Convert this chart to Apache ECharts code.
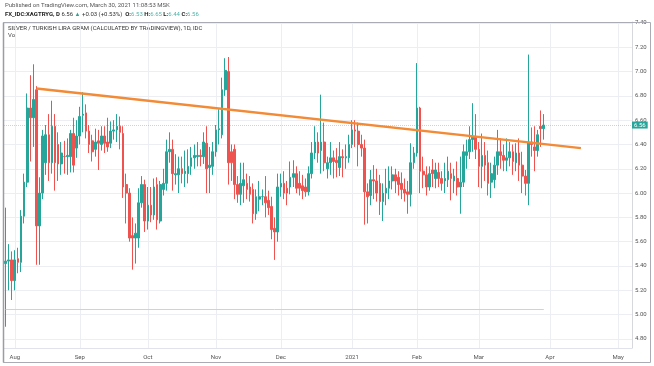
<!DOCTYPE html>
<html><head><meta charset="utf-8">
<script src="https://cdn.jsdelivr.net/npm/echarts@6/dist/echarts.min.js"></script>
<style>html,body{margin:0;padding:0;background:#fff}#c{width:654px;height:366px}</style>
</head><body><div id="c"></div>
<script>
// ---- data ----
const firstDate = '2020-07-29';
const lastAxisDate = '2021-05-07';
const monthNames = ['Jan','Feb','Mar','Apr','May','Jun','Jul','Aug','Sep','Oct','Nov','Dec'];
const opens = [5.42,5.44,5.45,5.28,5.46,5.43,5.81,6.09,6.70,6.62,6.85,5.73,6.00,6.25,6.48,6.25,6.55,6.40,6.24,6.30,6.30,6.30,6.49,6.37,6.47,6.64,6.66,6.51,6.43,6.36,6.43,6.40,6.47,6.42,6.41,6.51,
6.52,6.55,6.49,6.07,6.00,5.65,5.63,5.63,5.92,6.07,5.77,5.90,5.82,6.07,5.77,6.03,6.08,6.34,6.36,6.15,6.15,6.20,6.16,6.16,6.22,6.29,6.30,6.31,6.30,6.41,6.21,6.22,6.34,6.52,
6.48,6.85,7.00,6.34,6.36,6.07,5.99,6.06,6.08,6.05,6.03,5.83,5.95,5.97,5.97,5.94,5.89,5.71,5.68,6.05,6.08,6.04,6.05,6.13,6.16,6.08,6.06,6.05,6.01,6.16,6.33,6.42,6.35,6.42,6.20,
6.25,6.29,6.27,6.21,6.30,6.29,6.29,6.40,6.52,6.51,6.40,6.37,6.01,5.98,6.11,6.10,6.08,5.93,6.00,6.04,6.10,6.15,6.13,6.08,6.03,6.01,5.99,6.25,6.33,6.70,6.18,6.15,6.05,6.19,6.12,
6.17,6.12,6.10,6.11,6.16,6.10,6.12,6.05,6.09,6.31,6.34,6.44,6.46,6.36,6.22,6.31,6.25,6.09,6.11,6.23,6.34,6.31,6.27,6.29,6.34,6.25,6.33,6.23,6.14,6.08,6.42,6.38,6.35,6.55,6.53];
const closes = [5.44,5.45,5.28,5.45,5.43,5.81,6.09,6.70,6.62,6.77,5.73,6.00,6.47,6.48,6.25,6.55,6.25,6.24,6.33,6.30,6.31,6.49,6.23,6.47,6.63,6.65,6.51,6.40,6.34,6.42,6.41,6.47,6.41,6.38,6.51,6.52,
6.55,6.50,6.05,6.00,5.63,5.63,5.67,5.92,6.07,5.77,5.90,5.82,6.05,5.78,6.07,6.08,6.34,6.36,6.16,6.16,6.20,6.16,6.18,6.22,6.29,6.31,6.31,6.30,6.42,6.20,6.23,6.34,6.52,6.53,
6.85,7.01,6.25,6.25,6.07,5.99,6.08,6.11,6.03,5.99,5.83,5.97,5.97,5.97,5.92,5.88,5.70,5.68,6.05,6.08,6.00,6.00,6.13,6.16,6.04,6.04,6.02,6.01,6.16,6.33,6.42,6.33,6.42,6.25,6.25,
6.29,6.26,6.25,6.30,6.29,6.30,6.40,6.52,6.51,6.40,6.37,6.01,5.97,6.11,6.10,6.00,5.93,6.00,6.04,6.10,6.15,6.10,6.07,6.03,6.00,5.99,6.25,6.33,6.70,6.18,6.15,6.05,6.16,6.16,6.19,
6.12,6.08,6.12,6.18,6.12,6.14,6.05,6.09,6.34,6.34,6.44,6.46,6.36,6.22,6.31,6.23,6.08,6.16,6.23,6.34,6.31,6.27,6.29,6.34,6.26,6.33,6.23,6.14,6.08,6.42,6.40,6.35,6.48,6.53,6.56];
const lows = [4.90,5.20,5.12,5.20,5.34,5.35,5.75,6.05,6.26,6.38,5.41,5.41,5.95,6.15,6.10,6.16,6.02,6.10,6.15,6.16,6.15,6.17,6.17,6.29,6.40,6.50,6.45,6.33,6.26,6.30,6.19,6.35,6.33,6.34,6.37,6.44,
6.42,6.36,5.96,5.75,5.60,5.37,5.42,5.55,5.88,5.68,5.70,5.76,5.78,5.70,5.75,5.98,6.02,6.25,6.02,6.07,6.00,6.08,6.05,6.08,6.15,6.20,6.22,6.22,6.24,6.00,6.00,6.15,6.30,6.40,
6.45,6.80,6.07,6.10,5.95,5.92,5.90,5.92,5.95,5.93,5.75,5.78,5.85,5.90,5.80,5.82,5.62,5.45,5.60,5.97,5.95,5.90,5.99,6.05,6.00,5.98,5.95,5.97,5.98,6.12,6.28,6.25,6.16,6.18,6.12,
6.15,6.12,6.13,6.14,6.13,6.20,6.25,6.37,6.38,6.22,6.30,5.74,5.75,5.90,5.95,5.93,5.82,5.77,5.90,5.95,6.03,6.00,5.98,5.95,5.93,5.83,5.89,6.20,6.30,6.00,6.04,5.98,6.02,6.05,6.04,
6.05,6.02,6.00,6.05,5.94,6.00,5.98,5.83,6.05,6.20,6.28,6.34,6.28,6.05,6.04,6.10,5.98,5.96,6.04,6.15,6.20,6.18,6.18,6.22,6.15,6.18,6.10,6.00,5.98,5.90,6.30,6.18,6.30,6.38,6.44];
const highs = [5.88,5.58,5.52,5.53,5.55,5.86,6.16,6.82,6.97,7.06,6.88,6.13,6.52,6.56,6.65,6.76,6.65,6.50,6.42,6.43,6.45,6.52,6.62,6.60,6.71,6.83,6.73,6.56,6.48,6.53,6.52,6.55,6.55,6.62,6.59,6.60,
6.65,6.63,6.55,6.16,6.04,5.80,5.75,6.04,6.14,6.11,6.05,6.05,6.12,6.13,6.10,6.20,6.44,6.50,6.44,6.32,6.30,6.30,6.35,6.36,6.38,6.40,6.42,6.36,6.50,6.55,6.38,6.42,6.56,6.69,
6.95,7.11,7.12,6.40,6.40,6.14,6.25,6.25,6.16,6.14,6.08,6.03,6.10,6.03,6.14,6.02,5.97,5.80,6.16,6.16,6.18,6.10,6.26,6.27,6.22,6.18,6.15,6.12,6.22,6.42,6.55,6.50,6.81,6.58,6.30,
6.42,6.35,6.37,6.42,6.36,6.40,6.48,6.60,6.60,6.58,6.48,6.44,6.08,6.19,6.23,6.20,6.15,6.08,6.20,6.22,6.22,6.20,6.18,6.17,6.12,6.10,6.41,6.38,7.07,6.71,6.30,6.22,6.22,6.28,6.25,
6.25,6.18,6.25,6.30,6.25,6.20,6.26,6.30,6.40,6.44,6.55,6.74,6.65,6.42,6.49,6.42,6.35,6.25,6.30,6.52,6.45,6.40,6.45,6.42,6.40,6.41,6.45,6.34,6.19,7.14,6.54,6.55,6.52,6.68,6.65];
const trendDates = ['2020-08-12', '2021-04-15'];
const trendValues = [6.86, 6.37];
const volBaseValue = 5.04;
const lastPrice = 6.56;
const yTickLabels = ['4.80','5.00','5.20','5.40','5.60','5.80','6.00','6.20','6.40','6.60','6.80','7.00','7.20','7.40'];

// ---- build ----
function weekdays(from, to) {
  const out = [];
  const d = new Date(from + 'T00:00:00Z');
  const end = new Date(to + 'T00:00:00Z');
  while (d <= end) {
    const w = d.getUTCDay();
    if (w !== 0 && w !== 6) out.push(d.toISOString().slice(0, 10));
    d.setUTCDate(d.getUTCDate() + 1);
  }
  return out;
}
const categories = weekdays(firstDate, lastAxisDate);
const candles = opens.map((o, i) => [o, closes[i], lows[i], highs[i]]);
const isMonthStart = (i) => i > 0 && categories[i].slice(5, 7) !== categories[i - 1].slice(5, 7);
const monthLabel = (v) => { const m = parseInt(v.slice(5, 7), 10); return m === 1 ? v.slice(0, 4) : monthNames[m - 1]; };
const FONT = 'Roboto, "Liberation Sans", sans-serif';
const FS = 6;

const chart = echarts.init(document.getElementById('c'), null, { renderer: 'canvas' });
chart.setOption({
  animation: false,
  backgroundColor: '#fff',
  textStyle: { fontFamily: FONT },
  grid: { left: 4, right: 22, top: 22, bottom: 18, containLabel: false },
  xAxis: {
    type: 'category', data: categories, boundaryGap: true,
    axisLine: { show: true, lineStyle: { color: '#e0e3eb' } },
    axisTick: { show: false },
    axisLabel: { interval: (i) => isMonthStart(i), formatter: monthLabel, fontSize: FS, color: '#555', margin: 6, fontFamily: FONT },
    splitLine: { show: true, alignWithLabel: true, interval: (i) => isMonthStart(i), lineStyle: { color: '#eceef3', width: 1 } }
  },
  yAxis: {
    type: 'value', position: 'right', min: 4.725, max: 7.408, splitNumber: 14, scale: true,
    axisLine: { show: true, lineStyle: { color: '#d6d8de' } },
    axisTick: { show: false },
    axisLabel: {
      fontSize: FS, color: '#555', margin: 3, fontFamily: FONT,
      formatter: (v) => { const s = v.toFixed(2); return yTickLabels.indexOf(s) >= 0 && Math.abs(v - parseFloat(s)) < 1e-6 ? s : ''; }
    },
    splitLine: { lineStyle: { color: '#eceef3' } }
  },
  series: [
    {
      type: 'candlestick', data: candles, barWidth: '70%',
      itemStyle: { color: '#26a69a', color0: '#ef5350', borderColor: '#26a69a', borderColor0: '#ef5350', borderWidth: 1 },
      markLine: {
        silent: true, symbol: ['none', 'none'], animation: false,
        data: [
          [ { coord: [categories[0], volBaseValue], lineStyle: { color: '#cfd2d8', width: 1, type: 'solid' }, label: { show: false } },
            { coord: [categories[candles.length - 1], volBaseValue] } ],
          { yAxis: lastPrice, lineStyle: { color: 'rgba(38,166,154,0.35)', width: 1, type: 'dotted' },
            label: { show: true, position: 'end', distance: 0, formatter: lastPrice.toFixed(2), fontSize: FS, color: '#ffffff',
                     backgroundColor: '#26a69a', padding: [1, 2, 0, 2], fontFamily: FONT } }
        ]
      }
    },
    {
      type: 'line', data: trendDates.map((d, i) => [d, trendValues[i]]), symbol: 'none', z: 5,
      lineStyle: { color: '#f28a36', width: 2.5 }
    }
  ],
  graphic: [
    { type: 'rect', silent: true, z: 100, shape: { x: 3.5, y: 22.5, width: 647, height: 340 }, style: { fill: 'none', stroke: '#a9acb4', lineWidth: 1 } },
    { type: 'line', silent: true, z: 100, shape: { x1: 3.5, y1: 22.5, x2: 3.5, y2: 362.5 }, style: { stroke: '#9a9da5', lineWidth: 1.5 } },
    { type: 'text', left: 5, top: 2, style: { text: 'Published on TradingView.com, March 30, 2021 11:08:53 MSK', fontSize: FS, fontFamily: FONT, fill: '#555' } },
    { type: 'text', left: 5, top: 11, style: {
        text: '{b|FX_IDC:XAGTRYG, D} {n|6.56} {g|▲} {n|+0.03 (+0.53%)}  {b|O:}{t|6.53} {b|H:}{t|6.65} {b|L:}{t|6.44} {b|C:}{t|6.56}',
        fontSize: FS, fontFamily: FONT,
        rich: {
          b: { fontSize: FS, fontWeight: 'bold', fill: '#222', color: '#222', fontFamily: FONT },
          n: { fontSize: FS, fill: '#333', color: '#333', fontFamily: FONT },
          g: { fontSize: FS, fill: '#26a69a', color: '#26a69a', fontFamily: FONT },
          t: { fontSize: FS, fill: '#4fb3a9', color: '#4fb3a9', fontFamily: FONT }
        } } },
    { type: 'text', left: 8, top: 25, style: { text: 'SILVER / TURKISH LIRA GRAM (CALCULATED BY TRADINGVIEW), 1D, IDC', fontSize: FS, fontFamily: FONT, fill: '#333' } },
    { type: 'text', left: 8, top: 32, style: { text: 'Vol', fontSize: FS, fontFamily: FONT, fill: '#444' } }
  ]
});
</script>
</body></html>
